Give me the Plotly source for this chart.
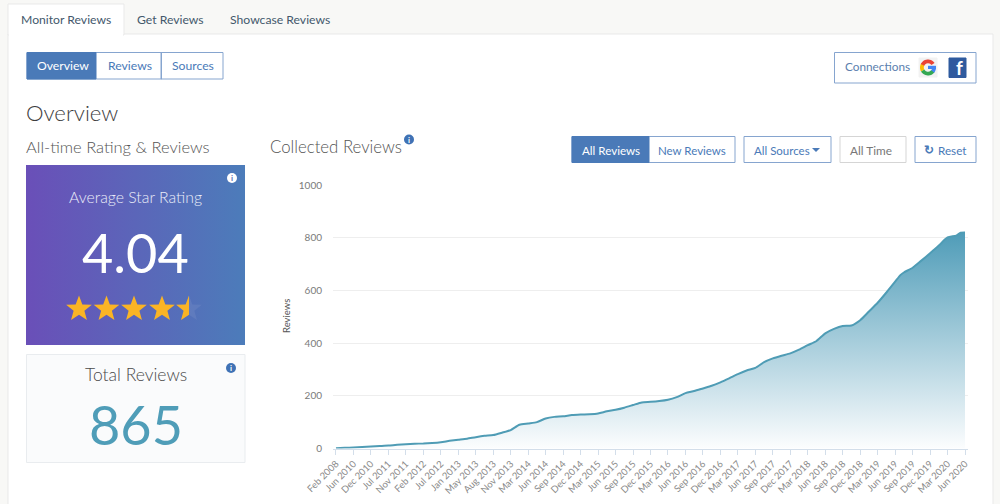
import math
import plotly.graph_objects as go

tick_labels = ["Feb 2008","Jun 2010","Dec 2010","Jul 2011","Nov 2011","Feb 2012","Jul 2012","Jan 2013",
 "May 2013","Aug 2013","Nov 2013","Mar 2014","Jun 2014","Sep 2014","Dec 2014","Mar 2015","Jun 2015",
 "Sep 2015","Dec 2015","Mar 2016","Jun 2016","Sep 2016","Dec 2016","Mar 2017","Jun 2017","Sep 2017",
 "Dec 2017","Mar 2018","Jun 2018","Sep 2018","Dec 2018","Mar 2019","Jun 2019","Sep 2019","Dec 2019",
 "Mar 2020","Jun 2020"]
tick_positions = list(range(37))
sample_positions = [0,.5,1,1.5,2,2.5,3,3.5,4,4.5,5,5.5,6,6.5,7,7.5,8,8.5,9,9.5,10,10.5,11,11.5,12,12.5,
 13,13.5,14,14.5,15,15.5,16,16.5,17,17.5,18,18.5,19,19.5,20,20.5,21,21.5,22,22.5,23,23.5,24,24.5,25,25.5,
 26,26.5,27,27.5,28,28.5,29,29.5,30,30.5,31,31.5,32,32.3,32.5,33,33.5,34,34.5,35,35.5,35.75,36]
reviews = [1,2.5,4,6,8,9.5,11,14,16,18,19,21,24,29,33,37,43,48,51,60,70,90,95,100,114,120,
 122,127,129,130,133,141,147,155,165,175,177,180,185,195,210,218,228,238,251,266,282,296,306,328,342,352,
 361,375,392,408,437,454,465,467,487,520,553,592,633,658,668,686,713,741,770,801,808,819,820]
y_ticks = [0,200,400,600,800,1000]

FONT = "Lato"
W, H = 1000, 504
px = lambda x: x / W
py = lambda y: 1 - y / H
shapes, notes = [], []

def rect(x0, y0, x1, y1, fill="rgba(0,0,0,0)", line="rgba(0,0,0,0)", lw=1, layer="below"):
    shapes.append(dict(type="rect", xref="paper", yref="paper", x0=px(x0), x1=px(x1), y0=py(y0), y1=py(y1),
                       fillcolor=fill, line=dict(color=line, width=lw), layer=layer))

def text(x, y, s, size, color, anchor="center", weight=None):
    f = dict(family=FONT, size=size, color=color)
    if weight: f["weight"] = weight
    notes.append(dict(xref="paper", yref="paper", x=px(x), y=py(y), text=s, showarrow=False, font=f,
                      xanchor=anchor, yanchor="middle", align=anchor))

def poly(points, fill):
    d = "M" + " L".join(f"{px(a):.5f},{py(b):.5f}" for a, b in points) + " Z"
    shapes.append(dict(type="path", xref="paper", yref="paper", path=d, fillcolor=fill,
                       line=dict(width=0), layer="above"))

def ring(cx, cy, r0, r1, a0, a1, fill):
    n = 14
    angles = [math.radians(a0 + (a1 - a0) * k / n) for k in range(n + 1)]
    outer = [(cx + r1 * math.cos(t), cy + r1 * math.sin(t)) for t in angles]
    inner = [(cx + r0 * math.cos(t), cy + r0 * math.sin(t)) for t in reversed(angles)]
    poly(outer + inner, fill)

def info(x, y, bg, fg):
    shapes.append(dict(type="circle", xref="paper", yref="paper", x0=px(x-5), x1=px(x+5), y0=py(y-5), y1=py(y+5),
                       fillcolor=bg, line=dict(width=0), layer="above"))
    text(x, y, "<b>i</b>", 8, fg)

def star_pts(cx, cy, R=13.5):
    out = []
    for k in range(10):
        r = R if k % 2 == 0 else R * 0.42
        t = -math.pi / 2 + k * math.pi / 5
        out.append((cx + r * math.cos(t), cy + r * math.sin(t)))
    return out

BLUE, BORDER = "#4a7ab8", "#86a5cf"
# page panel and tabs
rect(8, 34, 993, 510, "#ffffff", "#e9e9e9")
rect(8, 4, 124, 35, "#ffffff", "#e9e9e9")
rect(9, 30, 123, 37, "#ffffff")
text(66, 20, "Monitor Reviews", 12.2, "#44586c")
text(170, 20, "Get Reviews", 12.2, "#44586c")
text(280, 20, "Showcase Reviews", 12.2, "#44586c")

# button groups
rect(27, 52.5, 223, 79, "#ffffff", BORDER)
rect(27, 52.5, 96, 79, BLUE, BLUE)
rect(161, 52.5, 161.5, 79, BORDER, BORDER)
text(63, 66, "Overview", 12.2, "#ffffff")
text(129.5, 66, "Reviews", 12.2, BLUE)
text(192.5, 66, "Sources", 12.2, BLUE)
rect(834.5, 52.5, 976, 83, "#ffffff", BORDER)
text(877, 67, "Connections", 11.8, "#5b7fae")
rect(572, 136.5, 735, 162.5, "#ffffff", BORDER)
rect(572, 136.5, 649, 162.5, BLUE, BLUE)
text(610.5, 150, "All Reviews", 11.6, "#ffffff")
text(691.5, 150, "New Reviews", 11.5, BLUE)
rect(744, 136.5, 831, 162.5, "#ffffff", BORDER)
text(782, 150, "All Sources", 11.5, BLUE)
poly([(812, 148), (820, 148), (816, 152)], BLUE)
rect(840, 136.5, 906, 162.5, "#ffffff", "#d5d5d5")
text(871, 150, "All Time", 11.8, "#777777")
rect(915, 136.5, 976, 162.5, "#ffffff", BORDER)
text(929, 149.5, "<b>↻</b>", 12, BLUE)
text(952.5, 150, "Reset", 11.7, BLUE)

# connection icons
rect(919, 58, 937, 77, "#f2f2f2", "#f2f2f2", layer="above")
ring(928, 67.5, 4.2, 8, 150, 210, "#fbbc05")
ring(928, 67.5, 4.2, 8, 205, 325, "#ea4335")
ring(928, 67.5, 4.2, 8, 35, 150, "#34a853")
ring(928, 67.5, 4.2, 8, -5, 40, "#4285f4")
poly([(928, 65.8), (936, 65.8), (936, 69), (928, 69)], "#4285f4")
rect(949, 58, 966, 77.5, "#2f5a9e", "#2f5a9e", layer="above")
text(959, 68, "<b>f</b>", 19, "#ffffff")

# headings
text(24, 113, "Overview", 22.2, "#3d3d3d", "left", 300)
text(23.5, 147, "All-time Rating &amp; Reviews", 16.5, "#555555", "left", 300)
text(268, 146.5, "Collected Reviews", 16.8, "#555555", "left", 300)
info(409, 139.5, "#3f72b5", "#ffffff")

# rating card contents
text(135.5, 197, "Average Star Rating", 15.8, "#e9ecf8", "center", 300)
text(135.5, 252, "4.04", 54, "#ffffff")
for i, cx in enumerate([79, 106.5, 134, 162, 189]):
    pts = star_pts(cx, 309)
    if i < 4:
        poly(pts, "#fbb424")
    else:
        poly(pts, "rgba(255,255,255,0.07)")
        poly([pts[0], pts[5], pts[6], pts[7], pts[8], pts[9]], "#fbb424")
info(232, 178, "#ffffff", "#5a6fb6")

# total card
rect(26.5, 354.5, 245, 462.5, "#fafbfc", "#e9ecef")
text(135.5, 374.5, "Total Reviews", 17.5, "#4a4a4a", "center", 300)
text(135.5, 424, "865", 54, "#4f9db8")
info(231, 368, "#3f72b5", "#ffffff")

notes.append(dict(xref="paper", yref="paper", x=px(286), y=py(316), text="Reviews", showarrow=False, textangle=-90,
                  font=dict(family=FONT, size=9.5, color="#555555"), xanchor="center", yanchor="middle"))

fig = go.Figure()
# gradient rating card on full-page pixel axes
card_x = [26, 245, 245, 26, 26]
card_y = [165, 165, 345, 345, 165]
fig.add_trace(go.Scatter(x=card_x, y=card_y, xaxis="x2", yaxis="y2", mode="lines", line=dict(width=0),
    fill="toself", hoverinfo="skip", showlegend=False,
    fillgradient=dict(type="horizontal", colorscale=[[0, "#6a4fb8"], [1, "#4c7cba"]])))
fig.add_trace(go.Scatter(x=sample_positions, y=reviews, mode="lines",
    line=dict(color="#4f9cb5", width=2, shape="spline", smoothing=0.6),
    fill="tozeroy", showlegend=False,
    fillgradient=dict(type="vertical", colorscale=[[0, "#fcfdfe"], [1, "#4f9cb8"]])))

fig.update_layout(
    width=W, height=H, autosize=False, margin=dict(l=0, r=0, t=0, b=0, pad=0),
    paper_bgcolor="#f8f8f6", plot_bgcolor="rgba(0,0,0,0)", shapes=shapes, annotations=notes,
    font=dict(family=FONT),
    xaxis=dict(domain=[333/W, 968/W], range=[-0.17, 36.17], tickmode="array", tickvals=tick_positions,
               ticktext=tick_labels, tickangle=-45, tickfont=dict(size=9.5, color="#8a8a8a"),
               ticks="outside", ticklen=5, tickcolor="#d3deea", showgrid=False, showline=True,
               linecolor="#d3deea", zeroline=False, automargin=False),
    yaxis=dict(domain=[1-448.5/H, 1-185/H], range=[0, 1000], tickmode="array", tickvals=y_ticks,
               tickfont=dict(size=10, color="#7a7a7a"), gridcolor="#eeeeee", zeroline=False, ticks="",
               showline=False, automargin=False, ticklabelstandoff=10),
    xaxis2=dict(domain=[0, 1], range=[0, W], visible=False, anchor="y2"),
    yaxis2=dict(domain=[0, 1], range=[H, 0], visible=False, anchor="x2"),
)
fig.write_html("out.html", config=dict(displayModeBar=False), post_script="document.body.style.margin='0';")
